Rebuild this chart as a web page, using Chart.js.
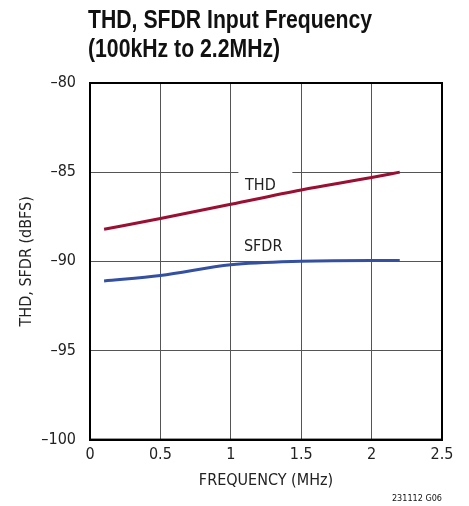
<!DOCTYPE html>
<html>
<head>
<meta charset="utf-8">
<script src="https://cdn.jsdelivr.net/npm/chart.js@4/dist/chart.umd.min.js"></script>
<style>
  html, body { margin: 0; padding: 0; background: #fff; }
  #wrap { position: relative; width: 469px; height: 506px; overflow: hidden; }
  #title { position: absolute; left: 88px; top: 5px; font-family: 'Liberation Sans', Arial, sans-serif; font-weight: bold; font-size: 25px; line-height: 29px; color: #111; white-space: nowrap; transform-origin: 0 0; }
  #note { position: absolute; right: 27px; top: 493px; font-family: 'DejaVu Sans Condensed', sans-serif; font-size: 9px; color: #111; }
  canvas { position: absolute; left: 0; top: 0; }
</style>
</head>
<body>
<div id="wrap">
  <canvas id="c" width="469" height="506"></canvas>
  <div id="title"><span id="t1">THD, SFDR Input Frequency</span><br>(100kHz to 2.2MHz)</div>
  <div id="note">231112 G06</div>
</div>
<script>
const frequencyMHz = [0.1, 0.5, 1.0, 1.5, 2.0, 2.2];
const thd = [-88.2, -87.6, -86.8, -86.0, -85.3, -85.0];
const sfdr = [-91.1, -90.8, -90.2, -90.0, -89.95, -89.95];
const xTicks = [0, 0.5, 1, 1.5, 2, 2.5];
const yTicks = [-100, -95, -90, -85, -80];
const seriesLabels = ['THD', 'SFDR'];
const labelPos = [{x: 1.21, y: -85.75}, {x: 1.23, y: -89.2}];

const FONT = "'DejaVu Sans Condensed', sans-serif";

// condense the title to the reference width
(function () {
  const t1 = document.getElementById('t1');
  const w = t1.getBoundingClientRect().width;
  if (w > 0) document.getElementById('title').style.transform = 'scaleX(' + (284 / w) + ')';
})();

const toPts = (xs, ys) => xs.map((x, i) => ({x: x, y: ys[i]}));

const frame = {
  id: 'frame',
  beforeDatasetsDraw(chart) {
    const {ctx, scales} = chart;
    const cx = scales.x.getPixelForValue(labelPos[0].x);
    const cy = scales.y.getPixelForValue(labelPos[0].y);
    ctx.save();
    ctx.fillStyle = '#fff';
    ctx.fillRect(cx - 22, cy - 14, 54, 26);
    ctx.restore();
  },
  afterDatasetsDraw(chart) {
    const {ctx, chartArea: a, scales} = chart;
    ctx.save();
    ctx.strokeStyle = '#000';
    ctx.lineWidth = 2;
    ctx.strokeRect(a.left, a.top, a.right - a.left, a.bottom - a.top);
    ctx.fillStyle = '#222';
    ctx.font = '16px ' + FONT;
    ctx.textAlign = 'center';
    ctx.textBaseline = 'middle';
    seriesLabels.forEach((t, i) => {
      ctx.fillText(t, scales.x.getPixelForValue(labelPos[i].x), scales.y.getPixelForValue(labelPos[i].y));
    });
    ctx.restore();
  }
};

new Chart(document.getElementById('c'), {
  type: 'line',
  data: {
    datasets: [
      { label: seriesLabels[0], data: toPts(frequencyMHz, thd), borderColor: '#9b0f33', borderWidth: 3, pointRadius: 0, cubicInterpolationMode: 'monotone', fill: false },
      { label: seriesLabels[1], data: toPts(frequencyMHz, sfdr), borderColor: '#3450a2', borderWidth: 3, pointRadius: 0, cubicInterpolationMode: 'monotone', fill: false }
    ]
  },
  options: {
    responsive: false,
    animation: false,
    layout: { padding: { left: 0, right: 27, top: 83, bottom: 16 } },
    plugins: { legend: { display: false }, tooltip: { enabled: false }, title: { display: false } },
    scales: {
      x: {
        type: 'linear', min: 0, max: 2.5,
        afterBuildTicks: (s) => { s.ticks = xTicks.map(v => ({value: v})); },
        ticks: { color: '#222', font: { family: FONT, size: 16 }, padding: 6, maxRotation: 0, callback: (v) => String(v) },
        grid: { color: '#555', lineWidth: 1, drawTicks: false },
        border: { color: '#000', width: 2 },
        title: { display: true, text: 'FREQUENCY (MHz)', color: '#222', font: { family: FONT, size: 16 }, padding: { top: 0, bottom: 0 } }
      },
      y: {
        type: 'linear', min: -100, max: -80,
        afterBuildTicks: (s) => { s.ticks = yTicks.map(v => ({value: v})); },
        afterFit: (s) => { s.width = 90; },
        ticks: { color: '#222', font: { family: FONT, size: 16 }, padding: 14, callback: (v) => String(v).replace('-', '\u2013') },
        grid: { color: '#555', lineWidth: 1, drawTicks: false },
        border: { color: '#000', width: 2 },
        title: { display: true, text: 'THD, SFDR (dBFS)', color: '#222', font: { family: FONT, size: 16 }, padding: { top: 17, bottom: 0 } }
      }
    }
  },
  plugins: [frame]
});
</script>
</body>
</html>
